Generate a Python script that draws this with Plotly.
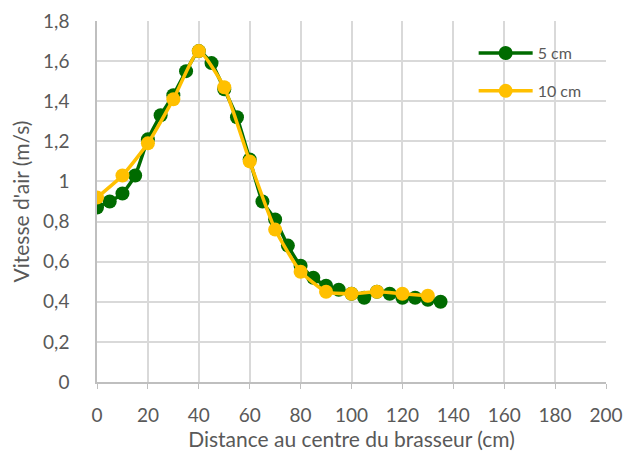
import plotly.graph_objects as go

x5 = [0, 5, 10, 15, 20, 25, 30, 35, 40, 45, 50, 55, 60, 65, 70, 75, 80, 85, 90, 95, 100, 105, 110, 115, 120, 125, 130, 135]
v5 = [0.87, 0.90, 0.94, 1.03, 1.21, 1.33, 1.43, 1.55, 1.65, 1.59, 1.46, 1.32, 1.11, 0.90, 0.81, 0.68, 0.58, 0.52, 0.48, 0.46, 0.44, 0.42, 0.45, 0.44, 0.42, 0.42, 0.41, 0.40]
x10 = [0, 10, 20, 30, 40, 50, 60, 70, 80, 90, 100, 110, 120, 130]
v10 = [0.92, 1.03, 1.19, 1.41, 1.65, 1.47, 1.10, 0.76, 0.55, 0.45, 0.44, 0.45, 0.44, 0.43]
names = ["5 cm", "10 cm"]
colors = ["#006B00", "#FFC000"]

font = "Lato"
grey = "#595959"

fig = go.Figure()
for i, (xs, ys) in enumerate([(x5, v5), (x10, v10)]):
    fig.add_trace(go.Scatter(
        x=xs, y=ys, name=names[i], mode="lines+markers",
        line=dict(color=colors[i], width=3.5, shape="spline", smoothing=0.5),
        marker=dict(color=colors[i], size=14),
        legendgroup=names[i],
    ))

fig.update_layout(
    width=626, height=452,
    margin=dict(l=97, r=20, t=21, b=70),
    plot_bgcolor="white", paper_bgcolor="white",
    separators=", ",
    font=dict(family=font, size=19, color=grey),
    legend=dict(x=0.74, y=0.958, xanchor="left", yanchor="top",
                bgcolor="rgba(0,0,0,0)", tracegroupgap=14, itemwidth=54,
                font=dict(size=16, color=grey)),
    xaxis=dict(range=[0, 200], dtick=20, tick0=0, showgrid=True,
               gridcolor="#D9D9D9", gridwidth=1.5, showline=True,
               linecolor="#BFBFBF", linewidth=1.5, ticks="outside",
               ticklen=5, tickcolor="#BFBFBF", zeroline=False,
               ticklabelstandoff=10, automargin=False,
               title=dict(text="Distance au centre du brasseur (cm)", standoff=6,
                          font=dict(size=21, color=grey)),
               tickfont=dict(size=19, color=grey)),
    yaxis=dict(range=[0, 1.8], dtick=0.2, tick0=0, showgrid=True,
               gridcolor="#D9D9D9", gridwidth=1.5, showline=True,
               linecolor="#BFBFBF", linewidth=1.5, zeroline=False,
               ticks="", ticklabelstandoff=22, automargin=False,
               title=dict(text="Vitesse d'air (m/s)", standoff=8,
                          font=dict(size=21, color=grey)),
               tickfont=dict(size=19, color=grey)),
)

fig.write_html("out.html")
